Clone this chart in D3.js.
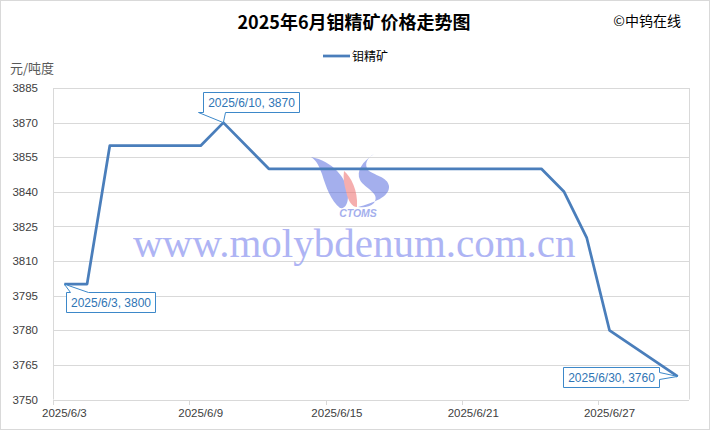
<!DOCTYPE html>
<html>
<head>
<meta charset="utf-8">
<script src="https://cdn.jsdelivr.net/npm/d3@7/dist/d3.min.js"></script>
<style>
  html, body { margin: 0; padding: 0; background: #fff; }
  svg { display: block; }
</style>
</head>
<body>
<svg id="chart" width="710" height="430"></svg>
<script>
// ---------- data ----------
const title = "2025年6月钼精矿价格走势图";
const seriesName = "钼精矿";
const unitLabel = "元/吨度";
const sourceLabel = "©中钨在线";
const dates = ["2025/6/3","2025/6/4","2025/6/5","2025/6/6","2025/6/7","2025/6/8","2025/6/9",
  "2025/6/10","2025/6/11","2025/6/12","2025/6/13","2025/6/14","2025/6/15","2025/6/16",
  "2025/6/17","2025/6/18","2025/6/19","2025/6/20","2025/6/21","2025/6/22","2025/6/23",
  "2025/6/24","2025/6/25","2025/6/26","2025/6/27","2025/6/28","2025/6/29","2025/6/30"];
const prices = [3800,3800,3860,3860,3860,3860,3860,
  3870,null,3850,3850,3850,3850,3850,
  3850,3850,3850,3850,3850,3850,3850,
  3850,3840,3820,3780,null,null,3760];
const yTicks = [3750,3765,3780,3795,3810,3825,3840,3855,3870,3885];
const xTickLabels = ["2025/6/3","2025/6/9","2025/6/15","2025/6/21","2025/6/27"];

// ---------- layout ----------
const svg = d3.select("#chart");
const W = 710, H = 430;
const plot = {left: 53, right: 689, top: 88, bottom: 399.5};

svg.append("rect").attr("x",0.5).attr("y",0.5).attr("width",W-1).attr("height",H-1)
  .attr("fill","#fff").attr("stroke","#d9d9d9");

const x = d3.scaleBand().domain(dates).range([plot.left, plot.right]).padding(0);
const xc = d => x(d) + x.bandwidth()/2;
const y = d3.scaleLinear().domain([3750,3885]).range([plot.bottom, plot.top]);

// gridlines
svg.append("g").selectAll("line").data(yTicks.slice(1)).join("line")
  .attr("x1",plot.left).attr("x2",plot.right)
  .attr("y1",d=>Math.round(y(d))+0.5).attr("y2",d=>Math.round(y(d))+0.5)
  .attr("stroke","#d9d9d9").attr("stroke-width",1);
svg.append("line").attr("x1",plot.left+0.5).attr("x2",plot.left+0.5)
  .attr("y1",plot.top).attr("y2",plot.bottom).attr("stroke","#d9d9d9");
svg.append("line").attr("x1",plot.right+0.5).attr("x2",plot.right+0.5)
  .attr("y1",plot.top).attr("y2",plot.bottom).attr("stroke","#d9d9d9");

// y axis labels
const yAxis = d3.axisLeft(y).tickValues(yTicks).tickFormat(d3.format("d")).tickSize(0).tickPadding(15);
const gy = svg.append("g").attr("transform",`translate(${plot.left},0)`).call(yAxis);
gy.select(".domain").remove();
gy.selectAll("text").attr("font-family","'Liberation Sans', Arial, sans-serif")
  .attr("font-size","11.5px").attr("fill","#404040");

// x axis
const xAxis = d3.axisBottom(x).tickValues(xTickLabels).tickSize(0).tickPadding(8);
const gx = svg.append("g").attr("transform",`translate(0,${Math.round(plot.bottom)+0.5})`).call(xAxis);
gx.select(".domain").attr("stroke","#d9d9d9").attr("d",`M${plot.left},0H${plot.right}`);
gx.selectAll("text").attr("font-family","'Liberation Sans', Arial, sans-serif")
  .attr("font-size","11.5px").attr("fill","#404040");
svg.append("g").selectAll("line").data(xTickLabels).join("line")
  .attr("x1",d=>Math.round(x(d))+0.5).attr("x2",d=>Math.round(x(d))+0.5)
  .attr("y1",Math.round(plot.bottom)).attr("y2",Math.round(plot.bottom)+5)
  .attr("stroke","#d9d9d9");

// ---------- watermark ----------
const wm = svg.append("g").attr("opacity",0.55);
wm.append("path").attr("fill","#5a6fe0")
  .attr("d","M311,157 C332,161 348,178 348,196 C348,204 345,209 340,208 C331,201 326,187 322,174 C319,166 317,161 311,157 Z");
wm.append("path").attr("fill","#ee6d6d")
  .attr("d","M344,171 C351,177 358,190 357,207 C352,207 348,201 346,191 C344,184 343,178 344,171 Z");
wm.append("path").attr("fill","#5a6fe0")
  .attr("d","M374,154 C362,162 356,171 360,180 C365,189 381,193 374,203 C370,207 364,208 358,207 C373,203 390,197 389,186 C388,177 373,175 368,170 C364,164 367,158 374,154 Z");
wm.append("text").attr("x",358).attr("y",217).attr("text-anchor","middle")
  .attr("font-family","'Liberation Sans', Arial, sans-serif").attr("font-weight","bold")
  .attr("font-style","italic").attr("font-size","10.5px").attr("fill","#5a6fe0").text("CTOMS");
svg.append("text").attr("x",133).attr("y",257)
  .attr("font-family","'Liberation Serif', 'DejaVu Serif', serif").attr("font-size","41px")
  .attr("fill","#9aa2f2").attr("opacity",0.8).text("www.molybdenum.com.cn");

// ---------- line ----------
const pts = dates.map((d,i)=>({d, v: prices[i]})).filter(p => p.v !== null);
const line = d3.line().x(p=>xc(p.d)).y(p=>y(p.v));
svg.append("path").datum(pts).attr("d",line).attr("fill","none")
  .attr("stroke","#4a7ebb").attr("stroke-width",2.75).attr("stroke-linejoin","round");

// ---------- callouts ----------
const cColor = "#3d88c9";
function callout(dateKey, dx, dy, side, wa, wb){
  const v = prices[dates.indexOf(dateKey)];
  const px = xc(dateKey), py = y(v);
  const label = `${dateKey}, ${v}`;
  const g = svg.append("g");
  const t = g.append("text").attr("font-family","'Liberation Sans', Arial, sans-serif")
    .attr("font-size","12px").attr("fill","#2f75b5").text(label);
  const bb = t.node().getBBox();
  const bw = Math.round(bb.width + 9), bh = 20;
  const bx = Math.round(px + dx) + 0.5, by = Math.round(py + dy) + 0.5;
  let d;
  if (side === "top") {
    d = `M${bx},${by} H${bx+wa} L${px},${py} L${bx+wb},${by} H${bx+bw} V${by+bh} H${bx} Z`;
  } else if (side === "bottom") {
    d = `M${bx},${by} H${bx+bw} V${by+bh} H${bx+wb} L${px},${py} L${bx+wa},${by+bh} H${bx} Z`;
  } else {
    d = `M${bx},${by} H${bx+bw} V${by+wa} L${px},${py} L${bx+bw},${by+wb} V${by+bh} H${bx} Z`;
  }
  g.insert("path","text").attr("d",d).attr("fill","#fff").attr("stroke",cColor).attr("stroke-width",1);
  t.attr("x",bx+bw/2).attr("y",by+bh/2+4.5).attr("text-anchor","middle");
}
callout("2025/6/3", 2, 8, "top", 4, 22);
callout("2025/6/10", -20, -31, "bottom", -5, 22);
callout("2025/6/30", -115, -9, "right", 5, 12);

// ---------- titles / legend ----------
svg.append("text").attr("x",354).attr("y",29).attr("text-anchor","middle")
  .attr("font-family","'Noto Sans CJK SC', sans-serif").attr("font-weight","bold")
  .attr("font-size","18px").attr("fill","#000").text(title);
svg.append("text").attr("x",681).attr("y",26).attr("text-anchor","end")
  .attr("font-family","'Noto Sans CJK SC', sans-serif")
  .attr("font-size","14px").attr("fill","#000").text(sourceLabel);
svg.append("line").attr("x1",323).attr("x2",350).attr("y1",56).attr("y2",56)
  .attr("stroke","#4a7ebb").attr("stroke-width",2.75);
svg.append("text").attr("x",352).attr("y",60.5)
  .attr("font-family","'Noto Sans CJK SC', sans-serif")
  .attr("font-size","12px").attr("fill","#000").text(seriesName);
svg.append("text").attr("x",10).attr("y",73)
  .attr("font-family","'Noto Sans CJK SC', sans-serif")
  .attr("font-size","13px").attr("fill","#595959").text(unitLabel);
</script>
</body>
</html>
